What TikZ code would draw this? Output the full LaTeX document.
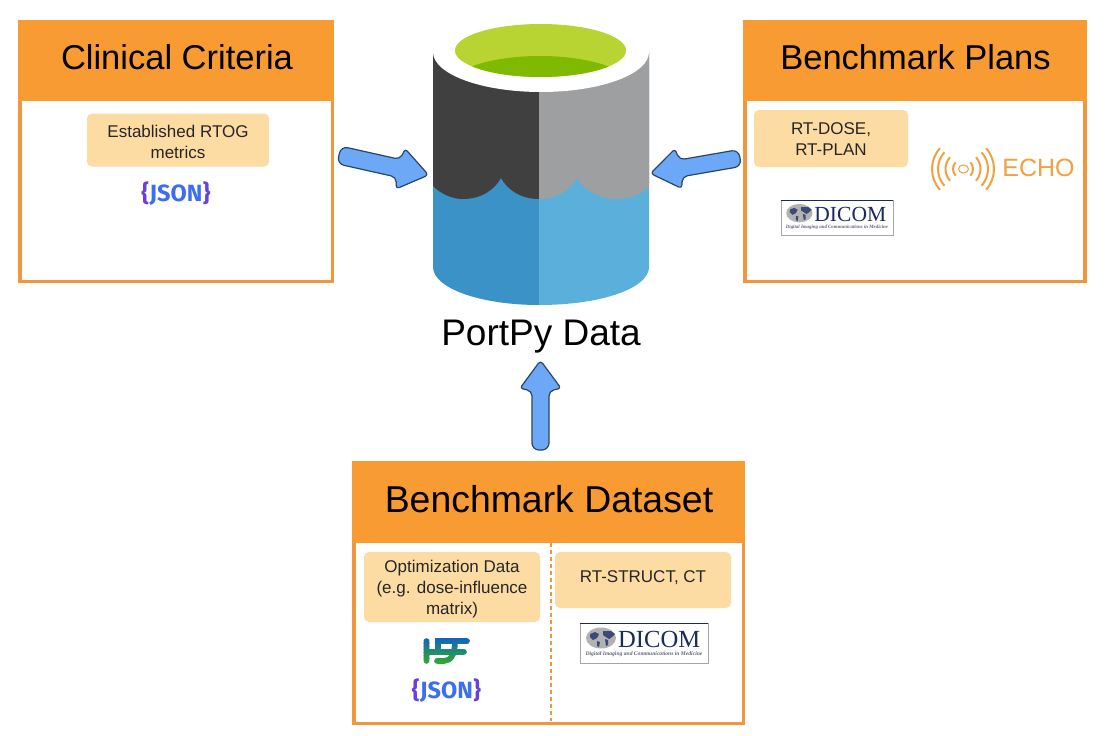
\documentclass[tikz,border=0pt]{standalone}
\usepackage{fontspec}
\setmainfont{Liberation Sans}
\newfontfamily\seriffam{Liberation Serif}
\newfontfamily\jsonfam{Fira Sans}
\usetikzlibrary{calc}
\definecolor{hdrorange}{HTML}{F99B33}
\definecolor{brdorange}{HTML}{F0963C}
\definecolor{tagfill}{HTML}{FDDCA4}
\definecolor{arrowfill}{HTML}{6CA8F6}
\definecolor{arrowline}{HTML}{2A4666}
\definecolor{echoorange}{HTML}{F3A041}
\definecolor{jsonblue}{HTML}{3B6EF0}
\definecolor{jsonpurple}{HTML}{6B3FDC}
\definecolor{dicomnavy}{HTML}{1B2A5E}
\definecolor{hdfblue}{HTML}{1362C0}
\definecolor{hdfgreen}{HTML}{2FA832}
\definecolor{bluea}{HTML}{3B92C6}
\definecolor{blueb}{HTML}{5AB0DA}
\definecolor{darka}{HTML}{404040}
\definecolor{darkb}{HTML}{9E9FA1}
\definecolor{greena}{HTML}{B8D432}
\definecolor{greenb}{HTML}{7FBA00}
\tikzset{
  panel/.style={draw=brdorange,line width=3.5pt,fill=white,inner sep=0pt,outer sep=0pt},
  header/.style={fill=hdrorange,inner sep=0pt,outer sep=0pt},
  title/.style={inner sep=0pt,font=\fontsize{34.5}{40}\selectfont,text=black},
  tag/.style={fill=tagfill,rounded corners=5pt,inner sep=0pt,outer sep=0pt},
  tagtext/.style={inner sep=0pt,align=center,font=\fontsize{17}{21}\selectfont,text=black!85},
  blockarrow/.style={draw=arrowline,fill=arrowfill,line width=1.2pt,line join=round},
  jsonlogo/.style={inner sep=0pt,font=\jsonfam\bfseries\fontsize{23.5}{24}\selectfont},
}
% tail coordinate, tip coordinate, shaft half width, head half width
\newcommand{\blockarrow}[4]{%
  \draw[blockarrow]
    [rounded corners=7pt] ($(#1)!#3!90:(#2)$) -- ($(#1)!#3!-90:(#2)$)
    [rounded corners=5pt] -- ($($(#1)!0.66!(#2)$)!#3!-90:(#2)$)
    [rounded corners=3pt] -- ($($(#1)!0.69!(#2)$)!#4!-90:(#2)$)
    [rounded corners=3.5pt] -- (#2)
    [rounded corners=3pt] -- ($($(#1)!0.69!(#2)$)!#4!90:(#2)$)
    [rounded corners=5pt] -- ($($(#1)!0.66!(#2)$)!#3!90:(#2)$)
    [rounded corners=7pt] -- cycle;
}
\newcommand{\jsontext}{\textcolor{jsonpurple}{\{}\kern0.6pt\textcolor{jsonblue}{JSON}\kern0.6pt\textcolor{jsonpurple}{\}}}
% name, centre, scale
\newcommand{\dicomlogo}[3]{%
  \begin{scope}[shift={#2},scale=#3,transform shape]
    \draw[draw=gray!70,line width=0.7pt,fill=white] (-64,-20) rectangle (64,20);
    \draw[dicomnavy,line width=0.9pt] (-64,-20) -- (64,-20);
    \fill[gray!60] (-43,-5) ellipse [x radius=15pt,y radius=10.5pt];
    \fill[dicomnavy!85]
      (-54,-9) -- (-49,-11) -- (-45,-9) -- (-47,-5) -- (-51,-3) -- (-54,-6) -- cycle
      (-47,-2) -- (-44,-1) -- (-45,4) -- (-47,3) -- cycle
      (-41,-12) -- (-33,-12) -- (-29,-9) -- (-32,-6) -- (-35,-4) -- (-38,-6) -- (-41,-8) -- cycle
      (-39,-4) -- (-36,-3) -- (-36,2) -- (-38,3) -- cycle;
    \node[inner sep=0pt,anchor=west,text=dicomnavy,font=\seriffam\fontsize{24.6}{26}\selectfont] (#1word) at (-26,-4) {DICOM};
    \node[inner sep=0pt,text=gray!70!dicomnavy,font=\seriffam\bfseries\itshape\fontsize{5.6}{6}\selectfont] (#1cap) at (0,11) {Digital Imaging and Communications in Medicine};
  \end{scope}
}
\begin{document}
\begin{tikzpicture}[x=1pt,y=-1pt]
\useasboundingbox[fill=white] (0,0) rectangle (1114,736);

% --- panels
\node[panel,minimum width=312.5pt,minimum height=259.5pt] (clinical) at (176,151.5) {};
\node[header,minimum width=316pt,minimum height=81pt] (clinicalh) at (176,60.5) {};
\node[title] (clinicalt) at (177,57) {Clinical Criteria};

\node[panel,minimum width=340pt,minimum height=259.5pt] (plans) at (914.75,151.5) {};
\node[header,minimum width=343.5pt,minimum height=81pt] (plansh) at (914.75,60.5) {};
\node[title] (planst) at (915.5,57) {Benchmark Plans};

\node[panel,minimum width=389.5pt,minimum height=260.5pt] (dataset) at (548.5,593) {};
\node[header,minimum width=393pt,minimum height=82pt] (dataseth) at (548.5,502) {};
\node[title,font=\fontsize{37.4}{42}\selectfont] (datasett) at (549,499) {Benchmark Dataset};
\coordinate (divtop) at (551,543);
\coordinate (divbot) at (551,721);
\draw[brdorange,line width=1.1pt,dash pattern=on 4pt off 3pt] (divtop) -- (divbot);

% --- tags
\node[tag,minimum width=182pt,minimum height=53pt] (t1) at (178,140) {};
\node[tagtext] (t1t) at (178,141.5) {Established RTOG\\metrics};
\node[tag,minimum width=154pt,minimum height=57pt] (t2) at (831,138.5) {};
\node[tagtext] (t2t) at (831,139) {RT-DOSE,\\RT-PLAN};
\node[tag,minimum width=176pt,minimum height=70pt] (t3) at (452,587) {};
\node[tagtext] (t3t) at (452,589) {Optimization Data\\(e.g. dose-influence\\matrix)};
\node[tag,minimum width=176pt,minimum height=56pt] (t4) at (643,580) {};
\node[tagtext] (t4t) at (643,577.5) {RT-STRUCT, CT};

% --- JSON
\node[jsonlogo] (json1) at (176,194) {\jsontext};
\node[jsonlogo] (json2) at (446.5,690.5) {\jsontext};

% --- HDF
\foreach \i in {0,...,8}{
  \pgfmathsetmacro{\mixv}{100-\i*12.5}
  \colorlet{bandcol}{hdfblue!\mixv!hdfgreen}
  \begin{scope}
    \clip (420,{637.5+\i*3}) rectangle (474,{640.55+\i*3});
    \draw[bandcol,line width=5.6pt,line cap=round]
      (426.5,641) -- (426.5,661)
      (426.5,652) -- (464,652)
      (438,652) -- (438,641) -- (467,641)
      (437,661) -- (444,661) .. controls (451,661) and (455,654) .. (455,641);
  \end{scope}
}

% --- DICOM
\dicomlogo{dicomb}{(644,643)}{1}
\dicomlogo{dicoma}{(837,217.5)}{0.875}

% --- ECHO
\foreach \r in {10,17.5,25,31}{
  \draw[echoorange,line width=2pt]
    (963,169) ++(138:\r pt) arc [start angle=138,end angle=222,x radius=\r pt,y radius=\r pt];
  \draw[echoorange,line width=2pt]
    (963,169) ++(-42:\r pt) arc [start angle=-42,end angle=42,x radius=\r pt,y radius=\r pt];
}
\draw[echoorange,line width=1pt] (963.5,169) ellipse [x radius=5pt,y radius=4pt];
\node[inner sep=0pt,text=echoorange,font=\fontsize{25}{28}\selectfont] (echo) at (1038.5,167.5) {ECHO};

% --- cylinder
\fill[bluea] (433,52) -- (433,267) .. controls (433,288) and (480,305) .. (539,305) -- (539,52) -- cycle;
\fill[blueb] (539,52) -- (539,305) .. controls (602,305) and (649,288) .. (649,267) -- (649,52) -- cycle;
\fill[darka] (433,52) -- (433,186) .. controls (441,194) and (452,199) .. (463,199)
  .. controls (482,199) and (495,189) .. (501,178) .. controls (507,189) and (520,199) .. (539,199) -- (539,52) -- cycle;
\fill[darkb] (539,52) -- (539,199) .. controls (558,199) and (571,189) .. (577,178)
  .. controls (583,189) and (598,199) .. (617,199) .. controls (630,199) and (642,194) .. (649,186) -- (649,52) -- cycle;
\fill[white] (541,52) ellipse [x radius=108pt,y radius=40pt];
\fill[greena] (540.5,50.5) ellipse [x radius=85.5pt,y radius=26.5pt];
\begin{scope}
  \clip (540.5,50.5) ellipse [x radius=85.5pt,y radius=26.5pt];
  \fill[greenb] (540,86) ellipse [x radius=90pt,y radius=30pt];
\end{scope}

\node[inner sep=0pt,font=\fontsize{37}{42}\selectfont] (portpy) at (541,337) {PortPy Data};

% --- arrows
\coordinate (a1) at (339,155);
\coordinate (b1) at (428.5,175);
\coordinate (a2) at (740,158);
\coordinate (b2) at (650.5,173.5);
\coordinate (a3) at (540.5,450);
\coordinate (b3) at (540.5,360.5);
\blockarrow{a1}{b1}{9pt}{20.5pt}
\blockarrow{a2}{b2}{8.5pt}{20pt}
\blockarrow{a3}{b3}{8.5pt}{20.5pt}
\end{tikzpicture}
\end{document}
